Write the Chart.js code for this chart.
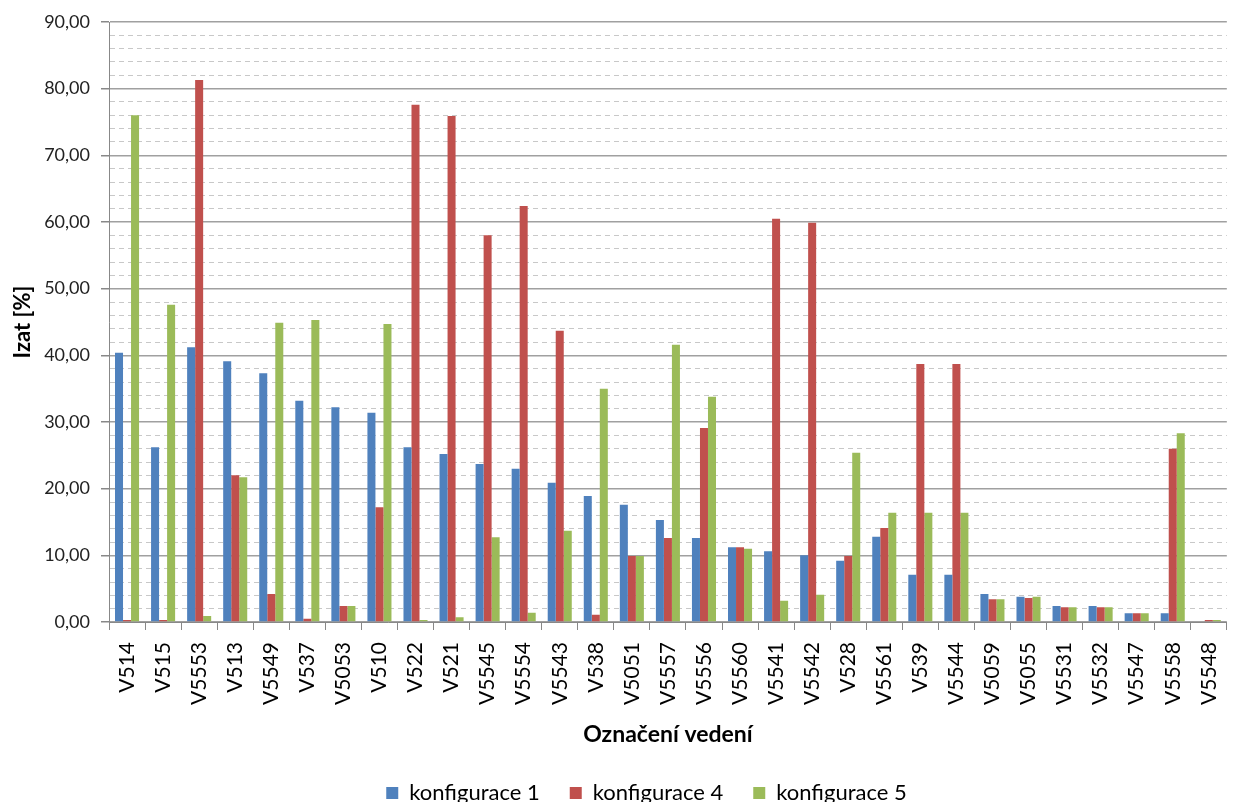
<!DOCTYPE html>
<html>
<head>
<meta charset="utf-8">
<script src="https://cdn.jsdelivr.net/npm/chart.js@4"></script>
<style>
    html, body { margin: 0; padding: 0; background: #fff; }
    #wrap { width: 1246px; height: 802px; position: relative; }
</style>
</head>
<body>
<div id="wrap"><canvas id="izatChart"></canvas></div>
<script>
// Data
const categories = ['V514', 'V515', 'V5553', 'V513', 'V5549', 'V537', 'V5053', 'V510', 'V522', 'V521',
    'V5545', 'V5554', 'V5543', 'V538', 'V5051', 'V5557', 'V5556', 'V5560', 'V5541', 'V5542',
    'V528', 'V5561', 'V539', 'V5544', 'V5059', 'V5055', 'V5531', 'V5532', 'V5547', 'V5558', 'V5548'];
const konfigurace1 = [40.4, 26.2, 41.2, 39.1, 37.3, 33.2, 32.2, 31.4, 26.2, 25.2,
    23.7, 23.0, 20.9, 18.9, 17.6, 15.3, 12.6, 11.2, 10.6, 10.0,
    9.2, 12.8, 7.1, 7.1, 4.2, 3.8, 2.4, 2.4, 1.3, 1.3, 0.0];
const konfigurace4 = [0.3, 0.3, 81.3, 22.0, 4.2, 0.5, 2.4, 17.2, 77.6, 75.9,
    58.0, 62.4, 43.7, 1.1, 9.9, 12.6, 29.1, 11.2, 60.5, 59.9,
    9.9, 14.1, 38.7, 38.7, 3.4, 3.6, 2.2, 2.2, 1.3, 26.0, 0.3];
const konfigurace5 = [76.0, 47.6, 0.9, 21.7, 44.9, 45.3, 2.4, 44.7, 0.3, 0.7,
    12.7, 1.4, 13.7, 35.0, 9.9, 41.6, 33.8, 11.0, 3.2, 4.1,
    25.4, 16.4, 16.4, 16.4, 3.4, 3.8, 2.2, 2.2, 1.3, 28.3, 0.3];
const yMin = 0;
const yMax = 90;
const yMinorStep = 2;
const yMajorStep = 10;

const FONT = 'Lato, "Open Sans", sans-serif';

function isMajor(ctx) {
    return ctx.tick && ctx.tick.value % yMajorStep === 0;
}

// nudge the legend a bit to the right, like the original
const legendShift = {
    id: 'legendShift',
    afterLayout(chart) {
        if (chart.legend) {
            chart.legend.left += 20;
            chart.legend.right += 20;
        }
    }
};

new Chart(document.getElementById('izatChart'), {
    type: 'bar',
    data: {
        labels: categories,
        datasets: [
            { label: 'konfigurace 1', data: konfigurace1, backgroundColor: '#4F81BD' },
            { label: 'konfigurace 4', data: konfigurace4, backgroundColor: '#C0504D' },
            { label: 'konfigurace 5', data: konfigurace5, backgroundColor: '#9BBB59' }
        ]
    },
    plugins: [legendShift],
    options: {
        responsive: true,
        maintainAspectRatio: false,
        animation: false,
        categoryPercentage: 0.667,
        barPercentage: 1.0,
        layout: {
            padding: { top: 22, left: 0, right: -7, bottom: -12 }
        },
        plugins: {
            legend: {
                position: 'bottom',
                labels: {
                    boxWidth: 12,
                    boxHeight: 12,
                    padding: 30,
                    color: '#000',
                    font: { family: FONT, size: 22 }
                }
            },
            tooltip: { enabled: false }
        },
        scales: {
            x: {
                afterFit: function(scale) { scale.height = 130; },
                grid: {
                    drawOnChartArea: false,
                    drawTicks: true,
                    tickLength: 8,
                    tickColor: '#888'
                },
                border: { color: '#888', width: 1 },
                ticks: {
                    autoSkip: false,
                    minRotation: 90,
                    maxRotation: 90,
                    padding: 12,
                    color: '#000',
                    font: { family: FONT, size: 21 }
                },
                title: {
                    display: true,
                    text: 'Označení vedení',
                    color: '#000',
                    padding: { top: 0, bottom: 4 },
                    font: { family: FONT, size: 23, weight: 'bold' }
                }
            },
            y: {
                min: yMin,
                max: yMax,
                afterFit: function(scale) { scale.width = 109; },
                grid: {
                    color: ctx => isMajor(ctx) ? '#a0a0a0' : '#c8c8c8',
                    lineWidth: ctx => isMajor(ctx) ? 1.5 : 1,
                    tickLength: 8,
                    tickColor: ctx => isMajor(ctx) ? '#888' : 'rgba(0,0,0,0)'
                },
                border: {
                    color: '#888',
                    width: 1,
                    dash: ctx => (ctx.tick && !isMajor(ctx)) ? [5, 4] : []
                },
                ticks: {
                    stepSize: yMinorStep,
                    autoSkip: false,
                    padding: 11,
                    color: '#222',
                    font: { family: FONT, size: 18 },
                    callback: v => v % yMajorStep === 0 ? v.toFixed(2).replace('.', ',') : ''
                },
                title: {
                    display: true,
                    text: 'Izat [%]',
                    color: '#000',
                    padding: { top: 10, bottom: 0 },
                    font: { family: FONT, size: 22, weight: 'bold' }
                }
            }
        }
    }
});
</script>
</body>
</html>
